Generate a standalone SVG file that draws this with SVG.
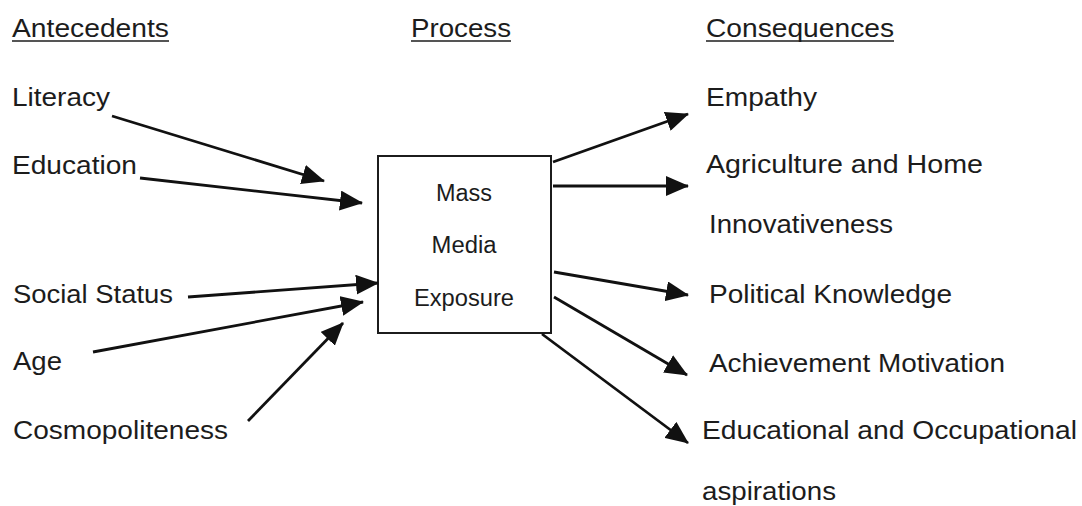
<svg xmlns="http://www.w3.org/2000/svg" width="1082" height="506" viewBox="0 0 1082 506">
<defs>
<style>
.t{font-family:"Liberation Sans",Arial,sans-serif;font-size:26px;fill:#1c1c1c}
.b{font-family:"Liberation Sans",Arial,sans-serif;font-size:23px;fill:#1c1c1c;text-anchor:middle}
.u{stroke:#1c1c1c;stroke-width:1.6}
.c{stroke:#111;stroke-width:2.8;fill:none;marker-end:url(#ah)}
</style>
<marker id="ah" viewBox="0 0 23 20" refX="22" refY="10" markerWidth="23" markerHeight="20" markerUnits="userSpaceOnUse" orient="auto">
<path d="M0,0 L23,10 L0,20 z" fill="#111"/>
</marker>
</defs>
<rect width="1082" height="506" fill="#fff"/>
<g id="headers">
<text class="t" x="12" y="37" textLength="157" lengthAdjust="spacingAndGlyphs">Antecedents</text>
<line class="u" x1="12" y1="41" x2="169" y2="41"/>
<text class="t" x="411" y="37" textLength="100" lengthAdjust="spacingAndGlyphs">Process</text>
<line class="u" x1="411" y1="41" x2="511" y2="41"/>
<text class="t" x="706" y="37" textLength="188" lengthAdjust="spacingAndGlyphs">Consequences</text>
<line class="u" x1="706" y1="41" x2="894" y2="41"/>
</g>
<g id="literacy"><text class="t" x="12" y="106" textLength="98" lengthAdjust="spacingAndGlyphs">Literacy</text></g>
<g id="education"><text class="t" x="12" y="174" textLength="125" lengthAdjust="spacingAndGlyphs">Education</text></g>
<g id="social-status"><text class="t" x="13" y="303" textLength="160" lengthAdjust="spacingAndGlyphs">Social Status</text></g>
<g id="age"><text class="t" x="13" y="370" textLength="49" lengthAdjust="spacingAndGlyphs">Age</text></g>
<g id="cosmopoliteness"><text class="t" x="13" y="439" textLength="215" lengthAdjust="spacingAndGlyphs">Cosmopoliteness</text></g>
<g id="mass-media-exposure">
<rect x="378" y="156" width="173" height="177" fill="#fff" stroke="#1c1c1c" stroke-width="2"/>
<text class="b" x="464" y="201" textLength="56" lengthAdjust="spacingAndGlyphs">Mass</text>
<text class="b" x="464" y="253" textLength="65" lengthAdjust="spacingAndGlyphs">Media</text>
<text class="b" x="464" y="306" textLength="100" lengthAdjust="spacingAndGlyphs">Exposure</text>
</g>
<g id="empathy"><text class="t" x="706" y="106" textLength="111" lengthAdjust="spacingAndGlyphs">Empathy</text></g>
<g id="agriculture"><text class="t" x="706" y="173" textLength="277" lengthAdjust="spacingAndGlyphs">Agriculture and Home</text>
<text class="t" x="709" y="233" textLength="184" lengthAdjust="spacingAndGlyphs">Innovativeness</text></g>
<g id="political"><text class="t" x="709" y="303" textLength="243" lengthAdjust="spacingAndGlyphs">Political Knowledge</text></g>
<g id="achievement"><text class="t" x="709" y="372" textLength="296" lengthAdjust="spacingAndGlyphs">Achievement Motivation</text></g>
<g id="aspirations"><text class="t" x="702" y="439" textLength="375" lengthAdjust="spacingAndGlyphs">Educational and Occupational</text>
<text class="t" x="702" y="500" textLength="134" lengthAdjust="spacingAndGlyphs">aspirations</text></g>
<g id="connectors">
<line class="c" x1="112" y1="116" x2="324" y2="181"/>
<line class="c" x1="140" y1="178" x2="362" y2="203"/>
<line class="c" x1="188" y1="297" x2="378" y2="283"/>
<line class="c" x1="93" y1="352" x2="363" y2="302"/>
<line class="c" x1="248" y1="421" x2="343" y2="323"/>
<line class="c" x1="553" y1="162" x2="688" y2="114"/>
<line class="c" x1="553" y1="186" x2="688" y2="186"/>
<line class="c" x1="554" y1="272" x2="688" y2="295"/>
<line class="c" x1="554" y1="297" x2="687" y2="375"/>
<line class="c" x1="542" y1="334" x2="688" y2="443"/>
</g>
</svg>
